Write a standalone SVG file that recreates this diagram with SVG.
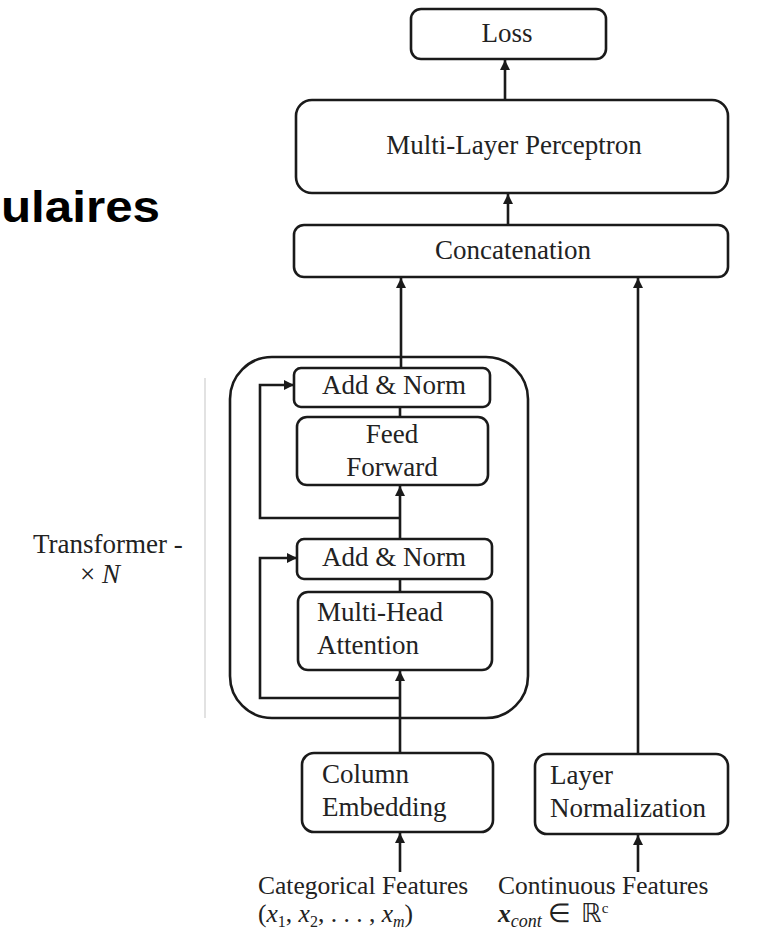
<svg xmlns="http://www.w3.org/2000/svg" width="777" height="934" viewBox="0 0 777 934">
<style>
.box{fill:#fff;stroke:#1a1a1a;stroke-width:2.6}
.t{font-family:"Liberation Serif","Times New Roman",serif;font-size:27px;fill:#222}
.b{font-size:25.5px}
.c{text-anchor:middle}
.ln{fill:none;stroke:#1a1a1a;stroke-width:2.6}
</style>
<defs>
<marker id="ah" markerUnits="userSpaceOnUse" markerWidth="10" markerHeight="12" refX="10" refY="5" orient="auto">
<path d="M0,0 L10,5 L0,10 z" fill="#1a1a1a"/>
</marker>
</defs>
<rect width="777" height="934" fill="#fff"/>
<text x="1" y="222" textLength="159" lengthAdjust="spacingAndGlyphs" font-family="Liberation Sans, Arial, sans-serif" font-weight="bold" font-size="44" fill="#000">ulaires</text>
<line x1="205" y1="378" x2="205" y2="718" stroke="#e2e2e2" stroke-width="2"/>
<g id="transformer">
<rect x="230" y="357" width="298" height="361" rx="42" class="box" fill="none"/>
<text class="t" x="33" y="553">Transformer -</text>
<text class="t" x="80" y="583">× <tspan font-style="italic">N</tspan></text>
</g>
<g id="loss"><rect class="box" x="411" y="9" width="195" height="50" rx="10"/><text class="t c" x="507" y="42">Loss</text></g>
<g id="mlp"><rect class="box" x="296" y="100" width="432" height="93" rx="16"/><text class="t c" x="514" y="154">Multi-Layer Perceptron</text></g>
<g id="concat"><rect class="box" x="294" y="225" width="434" height="52" rx="10"/><text class="t c" x="513" y="259">Concatenation</text></g>
<g id="addnorm2"><rect class="box" x="294" y="368" width="196" height="39" rx="7"/><text class="t c" x="394" y="394">Add &amp; Norm</text></g>
<g id="ff"><rect class="box" x="297" y="417" width="191" height="68" rx="10"/><text class="t c" x="392" y="443">Feed</text><text class="t c" x="392" y="476">Forward</text></g>
<g id="addnorm1"><rect class="box" x="297" y="539" width="195" height="40" rx="7"/><text class="t c" x="394" y="566">Add &amp; Norm</text></g>
<g id="mha"><rect class="box" x="298" y="592" width="194" height="78" rx="10"/><text class="t" x="317" y="621">Multi-Head</text><text class="t" x="317" y="654">Attention</text></g>
<g id="colemb"><rect class="box" x="302" y="753" width="191" height="79" rx="12"/><text class="t" x="322" y="783">Column</text><text class="t" x="322" y="816">Embedding</text></g>
<g id="layernorm"><rect class="box" x="535" y="754" width="193" height="80" rx="12"/><text class="t" x="550" y="784">Layer</text><text class="t" x="550" y="817">Normalization</text></g>
<g id="catfeat"><text class="t b" x="258" y="894">Categorical Features</text>
<text class="t b" x="258" y="922">(<tspan font-style="italic">x</tspan><tspan font-size="16" dy="5">1</tspan><tspan dy="-5">, </tspan><tspan font-style="italic">x</tspan><tspan font-size="16" dy="5">2</tspan><tspan dy="-5">, . . . , </tspan><tspan font-style="italic">x</tspan><tspan font-size="16" font-style="italic" dy="5">m</tspan><tspan dy="-5">)</tspan></text></g>
<g id="contfeat"><text class="t b" x="498" y="894">Continuous Features</text>
<text class="t b" x="498" y="922"><tspan font-style="italic" font-weight="bold">x</tspan><tspan font-size="18" font-style="italic" dy="5">cont</tspan><tspan dy="-5" dx="6">∈</tspan><tspan dx="10">ℝ</tspan><tspan font-size="15" dy="-9">c</tspan></text></g>
<g id="connectors" class="ln">
<path class="ln" d="M505,100 L505,60" marker-end="url(#ah)"/>
<path class="ln" d="M508,225 L508,194" marker-end="url(#ah)"/>
<path class="ln" d="M401,368 L401,278" marker-end="url(#ah)"/>
<path class="ln" d="M638,754 L638,278" marker-end="url(#ah)"/>
<path class="ln" d="M400,753 L400,671" marker-end="url(#ah)"/>
<path class="ln" d="M400,592 L400,579"/>
<path class="ln" d="M400,539 L400,486" marker-end="url(#ah)"/>
<path class="ln" d="M400,417 L400,407"/>
<path class="ln" d="M400,698 L260,698 L260,558 L297,558" marker-end="url(#ah)"/>
<path class="ln" d="M400,518 L260,518 L260,385 L294,385" marker-end="url(#ah)"/>
<path class="ln" d="M400,872 L400,833" marker-end="url(#ah)"/>
<path class="ln" d="M638,872 L638,835" marker-end="url(#ah)"/>
</g>
</svg>
